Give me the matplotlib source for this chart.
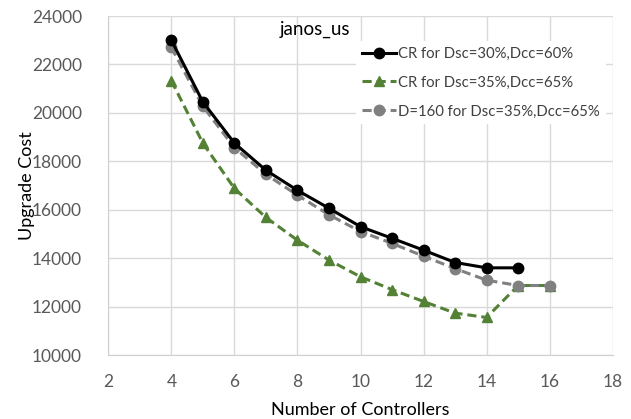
import numpy as np
import matplotlib
matplotlib.use('Agg')
import matplotlib.pyplot as plt

plt.rcParams['font.family'] = ['Lato', 'DejaVu Sans']

# datos
n_black = [4, 5, 6, 7, 8, 9, 10, 11, 12, 13, 14, 15]
cr_30_60 = [23000, 20450, 18750, 17630, 16800, 16060, 15300, 14820, 14330, 13820, 13600, 13600]

n_green = [4, 5, 6, 7, 8, 9, 10, 11, 12, 13, 14, 15, 16]
cr_35_65 = [21330, 18750, 16880, 15680, 14740, 13920, 13230, 12700, 12210, 11730, 11550, 12870, 12870]

n_gray = [4, 5, 6, 7, 8, 9, 10, 11, 12, 13, 14, 15, 16]
d160_35_65 = [22700, 20270, 18560, 17460, 16600, 15790, 15100, 14610, 14080, 13570, 13090, 12870, 12870]

labels = ['CR for Dsc=30%,Dcc=60%', 'CR for Dsc=35%,Dcc=65%', 'D=160 for Dsc=35%,Dcc=65%']

W, H = 631, 419
fig = plt.figure(figsize=(W / 100, H / 100), dpi=100)
ax = fig.add_axes([108.3 / W, 1 - 355 / H, (612.7 - 108.3) / W, (355 - 16) / H])

ax.plot(n_black, cr_30_60, color='black', lw=2.2, marker='o', ms=7.5, label=labels[0], zorder=5)
ax.plot(n_green, cr_35_65, color='#538135', lw=2.2, ls=(0, (3, 1.6)), marker='^', ms=7.5, label=labels[1], zorder=4)
ax.plot(n_gray, d160_35_65, color='#808080', lw=2.2, ls=(0, (3, 1.6)), marker='o', ms=7.5, label=labels[2], zorder=4)

ax.set_xlim(2, 18)
ax.set_ylim(10000, 24000)
ax.set_xticks(np.arange(2, 19, 2))
ax.set_yticks(np.arange(10000, 24001, 2000))
ax.grid(True, color='#d9d9d9', lw=1)
ax.set_axisbelow(True)
for s in ['top', 'right']:
    ax.spines[s].set_visible(False)
ax.spines['bottom'].set_color('#d0d0d0')
ax.spines['left'].set_color('#d0d0d0')
ax.tick_params(length=0, labelsize=12.5, labelcolor='#595959')
ax.tick_params(axis='y', pad=19)
ax.tick_params(axis='x', pad=14)

ax.set_xlabel('Number of Controllers', fontsize=13, color='black', labelpad=8)
ax.set_ylabel('Upgrade Cost', fontsize=13, color='black', labelpad=-2)
ax.text(0.41, 0.985, 'janos_us', transform=ax.transAxes, ha='center', va='top', fontsize=13.5)

leg = ax.legend(loc='upper right', bbox_to_anchor=(0.995, 0.94), frameon=True, fontsize=10.7,
                handlelength=2.3, handletextpad=0.15, labelspacing=1.0, borderaxespad=0.3)
leg.get_frame().set_edgecolor('none')
leg.get_frame().set_facecolor('white')
leg.get_frame().set_alpha(1)
for t in leg.get_texts():
    t.set_color('#404040')

fig.savefig('out.png', dpi=100)
